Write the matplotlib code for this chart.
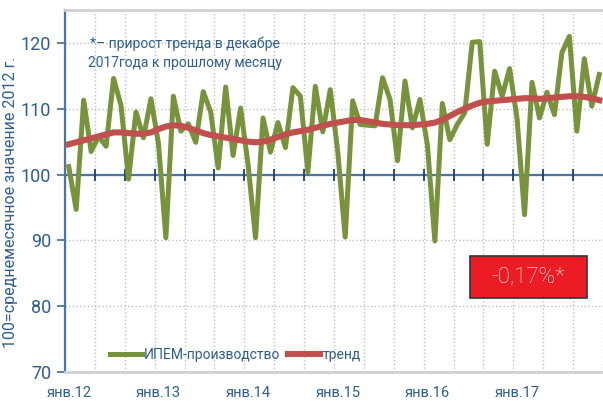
import matplotlib
matplotlib.use("Agg")
import matplotlib.pyplot as plt
from matplotlib.patches import Rectangle

# ИПЕМ-производство, янв.2012 - дек.2017 (100 = среднемесячное значение 2012 г.)
ipem = [101.2, 94.7, 111.3, 103.5, 105.8, 104.3, 114.6, 110.5, 99.3, 109.5, 105.6, 111.5,
        104.8, 90.4, 111.9, 106.6, 107.7, 104.9, 112.6, 109.5, 101.0, 113.3, 102.9, 110.1,
        101.5, 90.4, 108.6, 103.4, 107.9, 104.1, 113.2, 111.9, 100.4, 113.4, 106.5, 112.9,
        103.5, 90.5, 111.2, 107.6, 107.5, 107.4, 114.7, 111.4, 102.1, 114.2, 107.1, 111.4,
        104.5, 89.9, 110.8, 105.3, 107.6, 109.4, 120.1, 120.2, 104.6, 115.7, 111.9, 116.1,
        108.5, 93.9, 114.0, 108.6, 112.5, 109.1, 118.5, 121.0, 106.6, 117.6, 110.4, 115.2]
trend = [104.6, 104.9, 105.2, 105.5, 105.8, 106.1, 106.4, 106.4, 106.3, 106.2, 106.2, 106.4,
         106.9, 107.3, 107.5, 107.4, 107.1, 106.7, 106.3, 106.0, 105.8, 105.6, 105.4, 105.2,
         105.0, 104.9, 105.0, 105.3, 105.7, 106.1, 106.4, 106.6, 106.8, 107.1, 107.4, 107.7,
         107.9, 108.1, 108.3, 108.3, 108.1, 107.9, 107.7, 107.6, 107.5, 107.5, 107.5, 107.6,
         107.7, 107.9, 108.3, 108.9, 109.5, 110.0, 110.5, 110.9, 111.1, 111.2, 111.3, 111.4,
         111.5, 111.6, 111.6, 111.5, 111.6, 111.7, 111.8, 111.9, 111.9, 111.8, 111.6, 111.3]
year_labels = ["янв.12", "янв.13", "янв.14", "янв.15", "янв.16", "янв.17"]
y_ticks = [70, 80, 90, 100, 110, 120]
note = "*– прирост тренда в декабре\n2017года к прошлому месяцу"
badge = "-0,17%*"

blue = "#2E5D8E"
axis_blue = "#4F74A0"
plt.rcParams["font.family"] = ["Roboto", "DejaVu Sans"]

months = list(range(len(ipem)))

fig = plt.figure(figsize=(6.03, 4.01), dpi=100)
ax = fig.add_axes([65 / 603, 29 / 401, 538 / 603, 362 / 401])

ax.plot(months, ipem, color="#77933C", linewidth=3.6, label="ИПЕМ-производство", zorder=3)
ax.plot(months, trend, color="#C0504D", linewidth=4.4, label="тренд", zorder=4)

ax.set_xlim(-0.5, len(ipem) - 0.5)
ax.set_ylim(70, 125)

# ось x проходит через 100
ax.axhline(100, color=axis_blue, linewidth=1.6, zorder=2)
bounds = [b - 0.5 for b in range(4, len(ipem), 4)]
ax.plot(bounds, [100] * len(bounds), linestyle="none", marker="|", markersize=8,
        markeredgewidth=1.3, color="#1F3F6E", zorder=2)

ax.set_yticks(y_ticks)
ax.set_yticklabels([str(v) for v in y_ticks], fontsize=13, color=blue)
ax.tick_params(axis="y", direction="out", length=6, width=1.3, color=axis_blue, pad=4)

ax.set_xticks(range(0, len(ipem), 12))
ax.set_xticklabels(year_labels, fontsize=10.5, color=blue)
ax.set_xticks([b - 0.5 for b in range(0, len(ipem) + 1, 4)], minor=True)
ax.tick_params(axis="x", which="both", length=0, pad=10)

ax.grid(True, axis="y", which="major", linestyle=":", color="#BFBFBF", linewidth=1)
ax.grid(True, axis="x", which="minor", linestyle=":", color="#BFBFBF", linewidth=1)
ax.set_axisbelow(True)

ax.spines["left"].set_color(axis_blue)
ax.spines["left"].set_linewidth(1.6)
ax.spines["right"].set_visible(False)
ax.spines["top"].set_color("#D0D0D0")
ax.spines["top"].set_linewidth(2)
ax.spines["bottom"].set_color("#D0D0D0")
ax.spines["bottom"].set_linewidth(2)

ax.set_ylabel("100=среднемесячное значение 2012 г.", fontsize=11.5, color=blue)
ax.yaxis.set_label_coords(-0.088, 0.47)

ax.text(0.223, 0.881, note, transform=ax.transAxes, ha="center", va="center",
        fontsize=10, color=blue, linespacing=1.5)

ax.add_patch(Rectangle((0.753, 0.204), 0.217, 0.116, transform=ax.transAxes,
                       facecolor="#ED1C24", edgecolor="#333333", linewidth=1.2, zorder=5))
ax.text(0.861, 0.262, badge, transform=ax.transAxes, ha="center", va="center",
        fontsize=16, fontweight="light", color="white", zorder=6)

ax.legend(loc="center left", bbox_to_anchor=(0.07, 0.047), ncol=2, frameon=False,
          fontsize=10, handlelength=2.3, handletextpad=0.15, columnspacing=0.6,
          labelcolor=blue, borderpad=0)

fig.savefig("out.png", dpi=100)
